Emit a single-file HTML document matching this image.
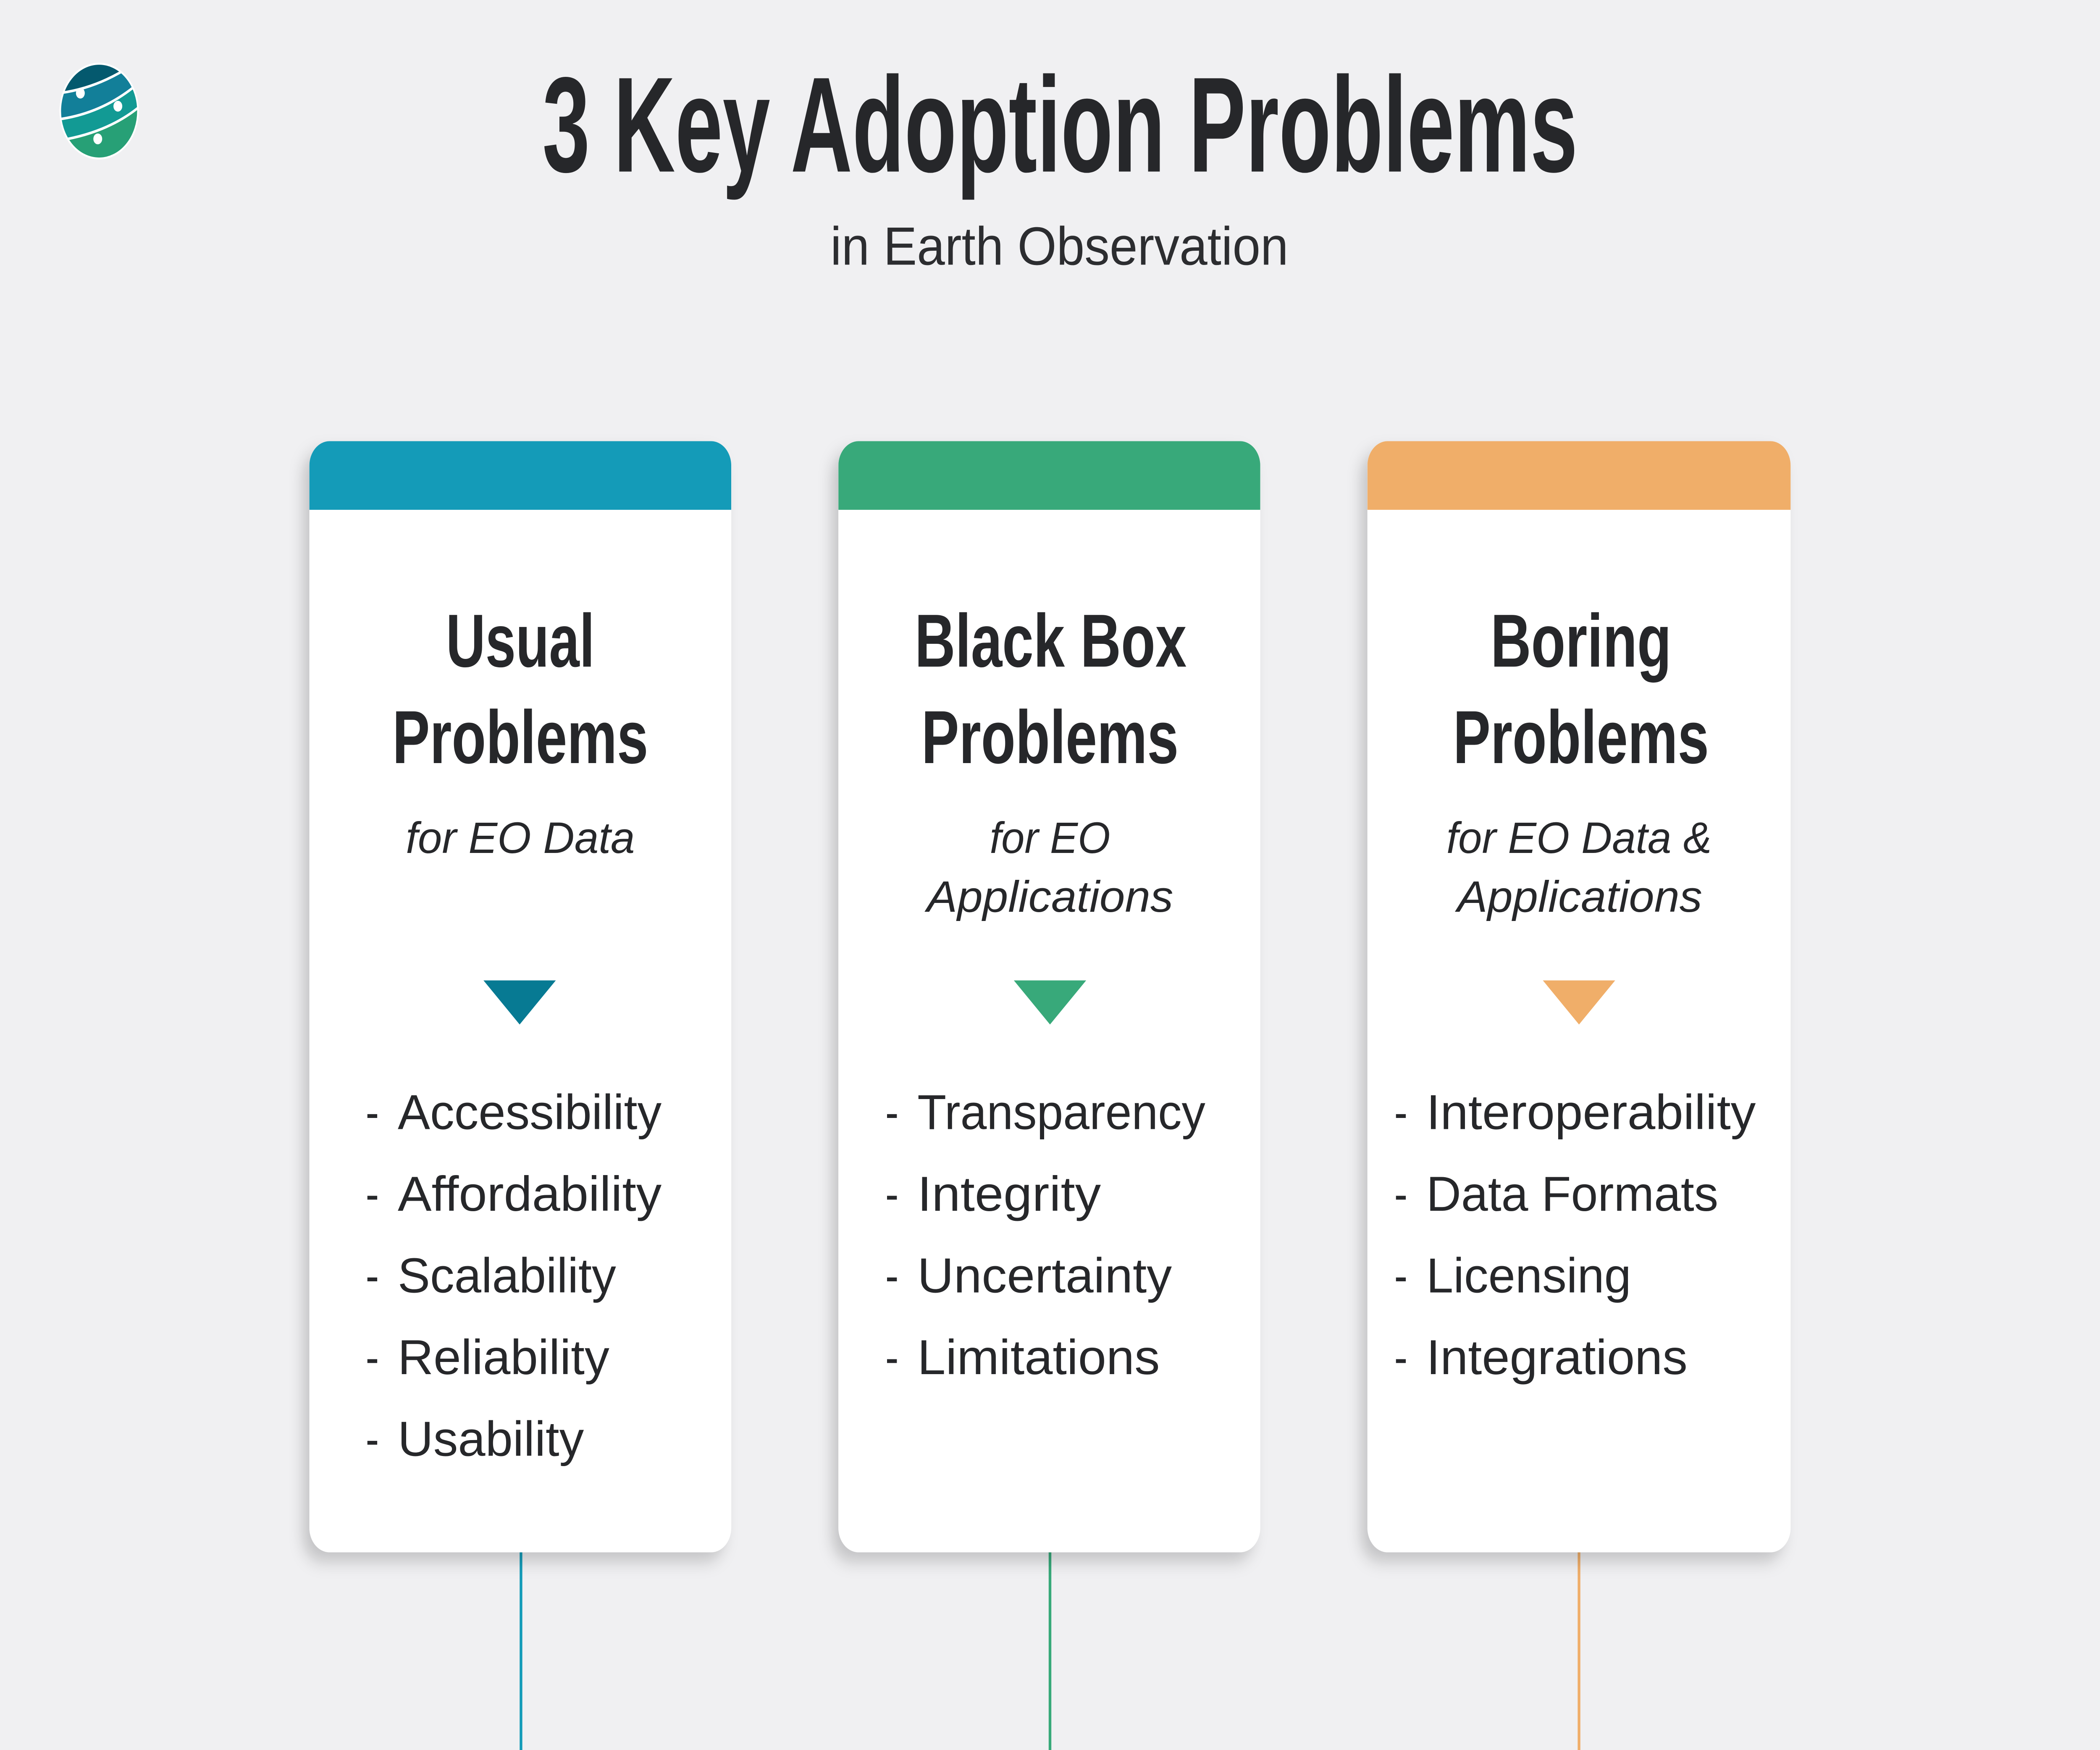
<!DOCTYPE html>
<html><head><meta charset="utf-8"><style>
html,body{margin:0;padding:0;background:#f0f0f2;overflow:hidden;width:100%;height:100%;}
svg{display:block;position:fixed;left:0;top:0;width:100vw;height:100vh;}
text{font-family:"Liberation Sans",sans-serif;fill:#26272a;}
.h{font-weight:bold;font-size:46px;}
.s{font-style:italic;font-size:27px;}
.l{font-size:30px;}
</style></head><body>
<svg viewBox="0 0 1568 1071" preserveAspectRatio="none" xmlns="http://www.w3.org/2000/svg">
<defs>
<clipPath id="c"><circle cx="74" cy="68" r="28.5"/></clipPath>
<filter id="sh" x="-20%" y="-20%" width="140%" height="140%"><feDropShadow dx="-5" dy="6" stdDeviation="5" flood-color="#000" flood-opacity="0.18"/></filter>
<clipPath id="k1"><rect x="231" y="270" width="315" height="680" rx="15"/></clipPath>
<clipPath id="k2"><rect x="626" y="270" width="315" height="680" rx="15"/></clipPath>
<clipPath id="k3"><rect x="1021" y="270" width="316" height="680" rx="15"/></clipPath>
</defs>
<rect width="1568" height="1071" fill="#f0f0f2"/>
<g clip-path="url(#c)">
<rect x="40" y="35" width="70" height="70" fill="#04596e"/>
<path d="M44 57 Q74 54 102 38 L115 40 L115 110 L44 110Z" fill="#127f99"/>
<path d="M44 73 Q79 69 106 49 L115 110 L44 110Z" fill="#129a94"/>
<path d="M44 86 Q82 81 106 64 L115 110 L44 110Z" fill="#27a076"/>
<path d="M44 57 Q74 54 102 38 M44 73 Q79 69 106 49 M44 86 Q82 81 106 64" stroke="#fff" stroke-width="1.6" fill="none"/>
</g>
<circle cx="74" cy="68" r="29" fill="none" stroke="#fff" stroke-width="1.2"/>
<circle cx="60" cy="57" r="3.3" fill="#fff"/><circle cx="88" cy="65" r="3.3" fill="#fff"/><circle cx="73" cy="85" r="3.3" fill="#fff"/>

<text x="405" y="105" font-weight="bold" font-size="83" textLength="773" lengthAdjust="spacingAndGlyphs">3 Key Adoption Problems</text>
<text x="620" y="162" font-size="33" textLength="342" lengthAdjust="spacingAndGlyphs" style="fill:#2c2d30">in Earth Observation</text>

<rect x="388" y="950" width="2" height="121" fill="#149bb8"/>
<rect x="783" y="950" width="2" height="121" fill="#38a97a"/>
<rect x="1178" y="950" width="2" height="121" fill="#f0ae69"/>

<rect x="231" y="270" width="315" height="680" rx="15" fill="#fff" filter="url(#sh)"/>
<rect x="626" y="270" width="315" height="680" rx="15" fill="#fff" filter="url(#sh)"/>
<rect x="1021" y="270" width="316" height="680" rx="15" fill="#fff" filter="url(#sh)"/>
<rect x="231" y="270" width="315" height="42" fill="#149bb8" clip-path="url(#k1)"/>
<rect x="626" y="270" width="315" height="42" fill="#38a97a" clip-path="url(#k2)"/>
<rect x="1021" y="270" width="316" height="42" fill="#f0ae69" clip-path="url(#k3)"/>

<text class="h" x="333" y="408" textLength="111" lengthAdjust="spacingAndGlyphs">Usual</text>
<text class="h" x="293" y="467" textLength="191" lengthAdjust="spacingAndGlyphs">Problems</text>
<text class="h" x="683" y="408" textLength="203" lengthAdjust="spacingAndGlyphs">Black Box</text>
<text class="h" x="688" y="467" textLength="192" lengthAdjust="spacingAndGlyphs">Problems</text>
<text class="h" x="1113" y="408" textLength="135" lengthAdjust="spacingAndGlyphs">Boring</text>
<text class="h" x="1085" y="467" textLength="191" lengthAdjust="spacingAndGlyphs">Problems</text>

<text class="s" x="303" y="522" textLength="171" lengthAdjust="spacingAndGlyphs">for EO Data</text>
<text class="s" x="739" y="522" textLength="90" lengthAdjust="spacingAndGlyphs">for EO</text>
<text class="s" x="692" y="558" textLength="184" lengthAdjust="spacingAndGlyphs">Applications</text>
<text class="s" x="1080" y="522" textLength="198" lengthAdjust="spacingAndGlyphs">for EO Data &amp;</text>
<text class="s" x="1088" y="558" textLength="183" lengthAdjust="spacingAndGlyphs">Applications</text>

<polygon points="361,600 415,600 388,627" fill="#077a93"/>
<polygon points="757,600 811,600 784,627" fill="#38a97a"/>
<polygon points="1152,600 1206,600 1179,627" fill="#f0ae69"/>

<text class="l" x="273" y="691">-</text><text class="l" x="297" y="691" textLength="197" lengthAdjust="spacingAndGlyphs">Accessibility</text>
<text class="l" x="273" y="741">-</text><text class="l" x="297" y="741" textLength="197" lengthAdjust="spacingAndGlyphs">Affordability</text>
<text class="l" x="273" y="791">-</text><text class="l" x="297" y="791" textLength="163" lengthAdjust="spacingAndGlyphs">Scalability</text>
<text class="l" x="273" y="841">-</text><text class="l" x="297" y="841" textLength="158" lengthAdjust="spacingAndGlyphs">Reliability</text>
<text class="l" x="273" y="891">-</text><text class="l" x="297" y="891" textLength="139" lengthAdjust="spacingAndGlyphs">Usability</text>

<text class="l" x="661" y="691">-</text><text class="l" x="685" y="691" textLength="215" lengthAdjust="spacingAndGlyphs">Transparency</text>
<text class="l" x="661" y="741">-</text><text class="l" x="685" y="741" textLength="137" lengthAdjust="spacingAndGlyphs">Integrity</text>
<text class="l" x="661" y="791">-</text><text class="l" x="685" y="791" textLength="190" lengthAdjust="spacingAndGlyphs">Uncertainty</text>
<text class="l" x="661" y="841">-</text><text class="l" x="685" y="841" textLength="181" lengthAdjust="spacingAndGlyphs">Limitations</text>

<text class="l" x="1041" y="691">-</text><text class="l" x="1065" y="691" textLength="246" lengthAdjust="spacingAndGlyphs">Interoperability</text>
<text class="l" x="1041" y="741">-</text><text class="l" x="1065" y="741" textLength="218" lengthAdjust="spacingAndGlyphs">Data Formats</text>
<text class="l" x="1041" y="791">-</text><text class="l" x="1065" y="791" textLength="153" lengthAdjust="spacingAndGlyphs">Licensing</text>
<text class="l" x="1041" y="841">-</text><text class="l" x="1065" y="841" textLength="195" lengthAdjust="spacingAndGlyphs">Integrations</text>
</svg>
</body></html>
